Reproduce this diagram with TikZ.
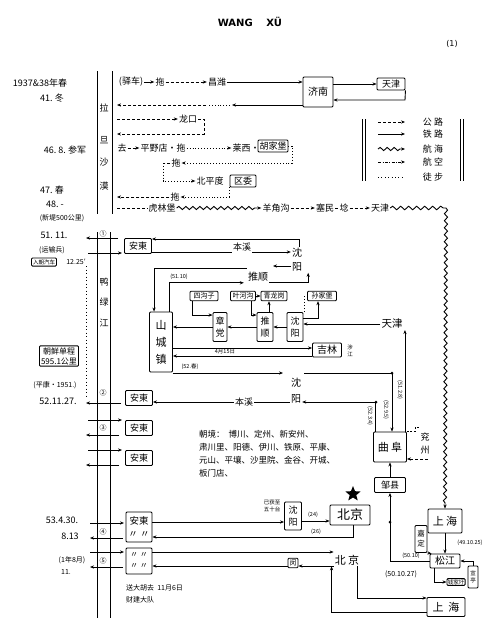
\documentclass[tikz,border=0pt]{standalone}
\usepackage{fontspec}
\setmainfont{Noto Sans CJK SC}
\newfontfamily\latf{DejaVu Sans}
\usetikzlibrary{arrows.meta,decorations.pathmorphing,shapes.geometric}
\begin{document}
\begin{tikzpicture}[x=1pt,y=-1pt,
  every node/.style={inner sep=1pt, font=\fontsize{9}{10}\selectfont},
  ln/.style={line width=0.9pt},
  arr/.style={ln,-{Stealth[length=4pt,width=3.2pt]}},
  rail/.style={arr},
  road/.style={arr,dash pattern=on 3pt off 2pt},
  walk/.style={arr,dash pattern=on 0.9pt off 2pt},
  air/.style={arr,dash pattern=on 3pt off 1.5pt on 0.8pt off 1.5pt},
  wave/.style={ln,decorate,decoration={snake,amplitude=1.8pt,segment length=8pt}},
  sea/.style={arr,decorate,decoration={snake,amplitude=1.6pt,segment length=7pt,post length=5pt}},
  box/.style={draw,line width=0.9pt,rounded corners=1pt,inner sep=1.5pt},
  tiny/.style={font=\fontsize{5.5}{6.5}\selectfont},
  small/.style={font=\fontsize{7}{8}\selectfont},
  vbox/.style={box,align=center},
]
\useasboundingbox (0,0) rectangle (497,624);
\fill[white] (0,0) rectangle (497,624);

% title
\node (title) at (250,22) {\latf\bfseries\fontsize{10}{12}\selectfont WANG\quad\ X\"U};
\node (pg) at (452,44) {\latf\fontsize{8}{9}\selectfont (1)};

% ---------- top section ----------
\draw[ln] (97,71) -- (97,214);
\draw[ln] (112,71) -- (112,214);
\node (c1) at (104,108) {拉};
\node (c2) at (104,140) {旦};
\node (c3) at (104,162) {沙};
\node (c4) at (104,186) {漠};

\node (d1) at (40,83) {1937\&38年春};
\node (d2) at (52,98) {41.\ 冬};
\node (d3) at (65,150) {46.\ 8.\ 参军};
\node (d4) at (52,190) {47.\ 春};
\node (d5) at (55,204) {48.\ -};
\node[small] (d6) at (62,218) {(新堤500公里)};

\node (yc) at (131,82) {(驿车)};
\node (tuo1) at (160,82) {拖};
\node (cw) at (217,82) {昌潍};
\node[box,minimum width=30,minimum height=30,font=\fontsize{10}{11}\selectfont] (jinan) at (318,92) {济南};
\node[box,minimum width=28,minimum height=12] (tj1) at (391,84) {天津};
\draw[rail] (yc) -- (tuo1);
\draw[road] (tuo1) -- (cw);
\draw[rail] (cw) -- (jinan.west |- cw);
\draw[rail] (jinan.east |- tj1) -- (tj1);
\draw[rail] (tj1.south east) -- (405,100) -- (jinan.east |- 0,100);
\draw[rail] (jinan.west |- 0,105) -- (232,105);
\draw[walk,-] (230,105) -- (208,105);
\draw[road] (206,105) -- (117,105);

\node (lk) at (188,119) {龙口};
\draw[road] (117,119) -- (lk);
\draw[road] (lk.east) -- (204,119) -- (204,134) -- (117,134);

\node (qu) at (122,148) {去};
\node (pyd) at (163,148) {平野店·拖};
\node (lx) at (246,148) {莱西·};
\node[box,minimum width=30,minimum height=12] (hjb) at (273,146) {胡家堡};
\draw[road] (qu) -- (pyd);
\draw[walk] (pyd) -- (lx);
\node (tuo2) at (176,163) {拖};
\draw[walk] (hjb.east) -- (292,146) -- (292,163) -- (tuo2.east);
\draw[road,-] (tuo2.west) -- (163,163);
\node (bpd) at (210,181) {北平度};
\node[box,minimum width=26,minimum height=12] (qw) at (243,181) {区委};
\draw[walk] (163,163) -- (163,181) -- (bpd.west);
\node (tuo3) at (175,197) {拖};
\draw[walk] ([xshift=-14pt]qw.south) |- (tuo3.east);
\draw[road] (tuo3.west) -- (117,197);

\node (hlb) at (162,208) {虎林堡};
\node (yjg) at (276,208) {羊角沟};
\node (smn) at (325,208) {塞民};
\node (nian) at (344,208) {埝};
\node (tj2) at (380,208) {天津};
\draw[road,-] (117,208) -- (hlb.west);
\draw[sea] (hlb.east) -- (yjg.west);
\draw[road] (yjg) -- (smn);
\draw[ln] (smn.east) -- (nian.west);
\draw[road] (nian) -- (tj2);

% legend
\draw[ln] (362,119) -- (362,181); \draw[ln] (365,119) -- (365,181);
\draw[ln] (460,119) -- (460,181); \draw[ln] (463,119) -- (463,181);
\coordinate (la1) at (378,122); \coordinate (lb1) at (405,122);
\coordinate (la2) at (378,134); \coordinate (lb2) at (405,134);
\coordinate (la3) at (378,149); \coordinate (lb3) at (405,149);
\coordinate (la4) at (378,162); \coordinate (lb4) at (405,162);
\coordinate (la5) at (378,177); \coordinate (lb5) at (405,177);
\draw[road] (la1) -- (lb1);
\draw[rail] (la2) -- (lb2);
\draw[sea] (la3) -- (lb3);
\draw[air] (la4) -- (lb4);
\draw[ln,dash pattern=on 0.9pt off 2.5pt] (la5) -- (lb5);
\node (lt1) at (433,122) {公\ 路};
\node (lt2) at (433,134) {铁\ 路};
\node (lt3) at (433,149) {航\ 海};
\node (lt4) at (433,162) {航\ 空};
\node (lt5) at (433,177) {徒\ 步};

% ---------- main section ----------
\draw[ln] (97,232) -- (97,618);
\draw[ln] (110,232) -- (110,618);
\node (ya) at (104,282) {鸭};
\node (lu) at (104,302) {绿};
\node (jiang) at (104,323) {江};
\node[small] (n1) at (103,234) {①};
\node[small] (n2) at (103,393) {②};
\node[small] (n3) at (103,428) {③};
\node[small] (n4) at (103,532) {④};
\node[small] (n5) at (103,561) {⑤};

\node (e1) at (54,235) {51.\ 11.};
\node[small] (e2) at (52,250) {(运输兵)};
\node[box,tiny] (rcqc) at (44,262) {入朝汽车};
\node[small] (e3) at (76,262) {12.25′};
\draw[ln,dash pattern=on 1pt off 2.5pt] (86,266) -- (86,398);
\node[box,align=center,font=\fontsize{8}{10}\selectfont] (dc) at (59,356) {朝鲜单程\\595.1公里};
\node[small] (e4) at (55,385) {(平康·1951.)};
\node (e5) at (58,401) {52.11.27.};

% Andong 1
\node[box,minimum width=27,minimum height=15] (ad1) at (138,246) {安東};
\draw[rail] (118,238) -- (86,238);
\draw[rail] (88,253) -- (122,253);
\node (bx1) at (242,247) {本溪};
\node[align=center,font=\fontsize{10}{14}\selectfont] (sy1) at (297,260) {沈\\阳};
\draw[rail] ([xshift=2pt]sy1.north) |- (ad1.east |- 0,239);
\draw[ln] (ad1.east |- 0,252) -- (bx1.west |- 0,252);
\draw[rail] (bx1.east |- 0,252) -- (sy1.west |- 0,252);
\node[font=\fontsize{10}{11}\selectfont] (ts1) at (258,277) {推顺};
\draw[rail] (sy1.west |- 0,266) -- (273,266);

% Shanchengzhen cluster
\node[vbox,minimum width=23,minimum height=60,font=\fontsize{11}{17}\selectfont] (szz) at (161,342) {山\\城\\镇};
\draw[rail] (ts1.west |- 0,268) -| ([xshift=5pt]szz.north west);
\draw[rail] ([xshift=-4pt]szz.north east) |- ([xshift=-3pt]ts1.south west);
\node[tiny] (l5110) at (179,277) {(51.10)};
\draw[rail] (ts1.south east) -| ([xshift=5pt]sy1.south east);

\node[box,small,minimum width=28] (sgz) at (204,296) {四沟子};
\node[vbox,minimum width=14,minimum height=29,font=\fontsize{9}{12}\selectfont] (zd) at (220,327) {章\\党};
\node[box,small,minimum width=25] (yhg) at (243,296) {叶河沟};
\node[box,small,minimum width=26] (qlg) at (274,296) {青龙岗};
\node[vbox,minimum width=16,minimum height=29,font=\fontsize{9}{12}\selectfont] (ts2) at (265,327) {推\\顺};
\node[vbox,minimum width=16,minimum height=29,font=\fontsize{9}{12}\selectfont] (sy2) at (295,327) {沈\\阳};
\node[box,small,minimum width=29] (sjb) at (322,296) {孙家堡};
\node[font=\fontsize{10.5}{12}\selectfont] (tj3) at (392,324) {天津};
\node[box,minimum width=29,minimum height=14,font=\fontsize{10}{11}\selectfont] (jl) at (327,350) {吉林};
\node[tiny,align=center] (sj2) at (350,351) {涉\\江};

\draw[rail] (tj3.west) -- (sy2.east |- tj3.west);
\draw[rail] (sy2.west) -- (ts2.east);
\draw[rail] (ts2.west) -- (zd.east);
\draw[rail] (zd.west) -- (szz.east |- zd.west);
\draw[rail] ([xshift=3pt]sgz.south west) |- ([yshift=-3pt]zd.north west);
\draw[rail] ([xshift=-5pt]yhg.south east) |- ([yshift=-3pt]ts2.north west);
\draw[rail] (yhg) -- (qlg);
\draw[rail] ([xshift=4pt]ts2.north) -- ([xshift=4pt]ts2.north |- qlg.south);
\draw[ln,dash pattern=on 1pt off 2pt] ([xshift=1pt]sy2.north east) -- ([xshift=1pt]sy2.north east |- sjb);
\draw[rail] ([yshift=9pt]sy2.east) -| ([xshift=-4pt]sjb.south);

\draw[rail] (szz.east |- 0,348) -- (jl.west |- 0,348);
\draw[rail] (jl.west |- 0,356) -- (szz.east |- 0,356);
\node[tiny] (l415) at (225,352) {4月15日};
\node[tiny] (l52c) at (190,367) {(52.春)};

\node[align=center,font=\fontsize{10}{16}\selectfont] (sy3) at (296,391) {沈\\阳};
\draw[rail] (szz.east |- 0,373) -- (283,373);

% Qufu region
\node[box,minimum width=33,minimum height=30,font=\fontsize{11}{12}\selectfont] (qf) at (390,447) {曲\ 阜};
\node[box,minimum width=31,minimum height=15] (zx) at (390,485) {邹县};
\node[align=center,font=\fontsize{9}{13}\selectfont] (yz) at (425,444) {兖\\州};
\draw[rail] (304,373) -| ([xshift=2pt]qf.north);
\fill (392,373) circle (1.5);
\draw[rail] ([xshift=2pt]qf.north west) |- (sy3.east |- 0,402);
\fill (376,402) circle (1.5);
\draw[rail] ([xshift=-2pt]qf.north east) -- ([xshift=-2pt]qf.north east |- tj3.south);
\node[tiny,rotate=-90] (v1) at (370,416) {(52.3.4)};
\node[tiny,rotate=-90] (v2) at (386,410) {(52.9.5)};
\node[tiny,rotate=-90] (v3) at (400,390) {(51.2.8)};
\draw[ln,dash pattern=on 2pt off 1.5pt] (qf.north east) -- ++(8,0) -- ++(0,-4) -- ++(4,0);
\draw[road] (428,459) -- (qf.east |- 0,459);
\draw[rail] (zx.north) -- (qf.south);

% Andong 2..4
\node[box,minimum width=27,minimum height=15] (ad2) at (139,398) {安東};
\node (bx2) at (244,402) {本溪};
\draw[rail] (bx2.west) -- (ad2.east |- bx2.west);
\draw[ln] (bx2.east) -- (sy3.west |- bx2.east);
\draw[rail] (121,403) -- (86,403);

\node[box,minimum width=27,minimum height=15] (ad3) at (139,428) {安東};
\draw[rail] (88,420) -- (122,420);
\draw[rail] (119,435) -- (86,435);
\node[box,minimum width=27,minimum height=15] (ad4) at (139,458) {安東};
\draw[rail] (88,450) -- (122,450);
\draw[rail] (119,465) -- (86,465);

\node[anchor=north west,align=left,font=\fontsize{8.5}{13}\selectfont] (cj) at (198,429)
  {朝境：\ \ 博川、定州、新安州、\\肃川里、阳德、伊川、铁原、平康、\\元山、平壤、沙里院、金谷、开城、\\板门店、};

% ---------- bottom ----------
\node (f1) at (62,520) {53.4.30.};
\node (f2) at (70,536) {8.13};
\node[small] (f3) at (72,560) {(1年8月)};
\node[small] (f4) at (66,572) {11.};

\node[box,align=center,minimum width=26,minimum height=30,font=\fontsize{9.5}{13}\selectfont] (ad5) at (139,527) {安東\\〃\ 〃};
\node[box,align=center,minimum width=26,minimum height=26,font=\fontsize{8}{11}\selectfont] (ad6) at (139,561) {〃\ 〃\\〃\ 〃};
\draw[rail] (90,523) -- (124,523);
\draw[rail] (123,538) -- (90,538);
\draw[rail] (90,552) -- (124,552);
\draw[rail] (123,567) -- (90,567);
\node[small,anchor=west] (g1) at (125,588) {送大胡去\ \ 11月6日};
\node[small,anchor=west] (g2) at (125,600) {财建大队};

\node[vbox,minimum width=17,minimum height=28,font=\fontsize{9}{12}\selectfont] (sy4) at (293,516) {沈\\阳};
\node[tiny,align=center] (sy4l) at (272,506) {已获至\\五十台};
\node[box,minimum width=40,minimum height=20,font=\fontsize{13}{14}\selectfont] (bj1) at (350,515) {北京};
\node[star,star points=5,star point ratio=2.3,fill,minimum size=16pt,inner sep=0pt] (star) at (353,494) {};
\draw[rail] (ad5.east |- 0,522) -- (sy4.west |- 0,522);
\draw[rail] (sy4.east |- 0,521) -- (bj1.west |- 0,521);
\node[tiny] (l24) at (313,515) {(24)};
\draw[rail] ([xshift=3pt]bj1.south) |- (ad5.east |- 0,537);
\node[tiny] (l26) at (316,532) {(26)};

\node[font=\fontsize{11}{12}\selectfont] (bj2) at (347,560) {北\ 京};
\node[box,small] (mn) at (293,563) {闵};
\draw[rail] (ad6.east |- 0,552) -- (bj2.west |- 0,552);
\draw[rail] (bj2.west |- 0,566) -- (mn.east |- 0,566);
\draw[rail] (mn.west |- 0,566) -- (ad6.east |- 0,566);

\node[box,minimum width=38,minimum height=19,font=\fontsize{11}{12}\selectfont] (sh2) at (446,607) {上\ \ 海};
\draw[rail] (sh2.west |- 0,612) -| ([xshift=-2pt]bj2.south west);
\draw[rail] ([xshift=-3pt]bj2.south east) |- (sh2.west |- 0,598);

\node[box,minimum width=34,minimum height=24,font=\fontsize{11}{12}\selectfont] (sh1) at (445,521) {上\ 海};
\node[vbox,minimum width=12,minimum height=27,font=\fontsize{7.5}{10}\selectfont,inner sep=0.5pt] (jd) at (421,539) {嘉\\定};
\node[box,minimum width=30,minimum height=14,font=\fontsize{10}{11}\selectfont] (sj) at (445,561) {松江};
\node[vbox,tiny,minimum width=10,minimum height=22,inner sep=0.5pt] (xt) at (473,577) {宣\\亭};
\node[box,tiny,inner sep=0.8pt] (qjw) at (456,582) {钱家圩};
\coordinate (wcorner) at (446,208);
\draw[wave] (tj2.east) -- (wcorner);
\draw[sea] (wcorner) -- (sh1.north);
\draw[rail] (sh1.south) -- (sj.north);
\node[tiny] (l49) at (470,543) {(49.10.25)};
\draw[rail] (jd.south east) -- ([xshift=2pt]sj.north west);
\draw[rail] (xt.north) |- (sj.east);
\draw[rail] ([xshift=5pt]sj.south west) |- (qjw.west);
\draw[rail] (sj.west) -| (zx.south);
\fill (390,522) circle (1.5);
\node[tiny] (l5010) at (411,556) {(50.10)};
\node[small] (l501027) at (401,574) {(50.10.27)};

\end{tikzpicture}
\end{document}
